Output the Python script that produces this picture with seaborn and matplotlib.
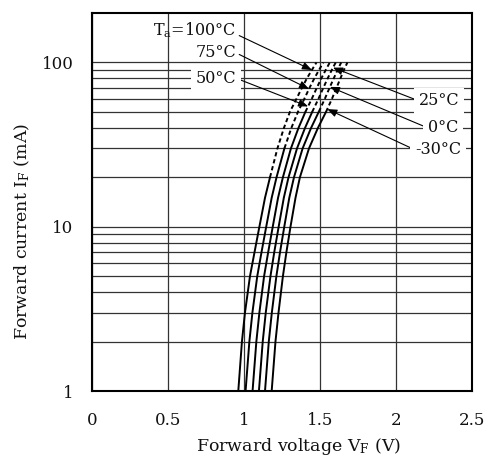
import numpy as np
import pandas as pd
import matplotlib
matplotlib.use("Agg")
import matplotlib.pyplot as plt
from matplotlib.ticker import FixedLocator, NullFormatter
import seaborn as sns

# ---- data ----
current_mA = [1, 2, 3, 5, 7, 10, 15, 20, 30, 40, 50, 60, 70, 80, 90, 100]
vf_100 = [0.962, 0.986, 1.006, 1.039, 1.069, 1.101, 1.138, 1.171, 1.220, 1.263, 1.302, 1.345, 1.381, 1.414, 1.447, 1.477]
vf_75 = [1.010, 1.035, 1.055, 1.087, 1.115, 1.146, 1.182, 1.214, 1.266, 1.312, 1.355, 1.397, 1.431, 1.463, 1.494, 1.522]
vf_50 = [1.056, 1.081, 1.101, 1.132, 1.159, 1.189, 1.224, 1.256, 1.309, 1.359, 1.404, 1.446, 1.479, 1.509, 1.538, 1.565]
vf_25 = [1.098, 1.123, 1.143, 1.174, 1.199, 1.228, 1.262, 1.293, 1.349, 1.402, 1.449, 1.490, 1.522, 1.551, 1.578, 1.604]
vf_0 = [1.138, 1.163, 1.183, 1.213, 1.237, 1.265, 1.298, 1.329, 1.386, 1.442, 1.492, 1.532, 1.563, 1.591, 1.616, 1.640]
vf_m30 = [1.182, 1.207, 1.227, 1.256, 1.279, 1.306, 1.339, 1.368, 1.428, 1.487, 1.540, 1.579, 1.609, 1.635, 1.658, 1.681]
temps = ["100", "75", "50", "25", "0", "-30"]
series = [vf_100, vf_75, vf_50, vf_25, vf_0, vf_m30]
solid_limit_mA = [20, 30, 50, 50, 50, 50]

x_ticks = [0, 0.5, 1, 1.5, 2, 2.5]
x_ticklabels = ["0", "0.5", "1", "1.5", "2", "2.5"]
y_ticks = [1, 10, 100]
y_ticklabels = ["1", "10", "100"]
y_minor = [2, 3, 4, 5, 6, 7, 8, 9, 20, 30, 40, 50, 60, 70, 80, 90]

# annotation targets: (label, series index, current where arrow touches)
left_labels = [(r"T$_\mathrm{a}$=100°C", 0, 90), ("75°C", 1, 69), ("50°C", 2, 54)]
right_labels = [("25°C", 3, 93), ("0°C", 4, 71), ("-30°C", 5, 52)]

# ---- style ----
sns.set_theme(style="white")
plt.rcParams["font.family"] = ["DejaVu Serif"]
plt.rcParams["mathtext.fontset"] = "dejavuserif"
TXT = "#111111"

fig = plt.figure(figsize=(4.93, 4.59), dpi=100)
ax = fig.add_axes([92.3 / 493, 1 - 391 / 459, (471.7 - 92.3) / 493, (391 - 13) / 459])

rows = []
for t, vf, lim in zip(temps, series, solid_limit_mA):
    for i, v in zip(current_mA, vf):
        rows.append({"T": t, "I": i, "V": v, "solid": i <= lim, "dashed": i >= lim})
df = pd.DataFrame(rows)

for t in temps:
    d = df[df["T"] == t]
    sns.lineplot(data=d[d["solid"]], x="V", y="I", ax=ax, color="black", lw=1.4,
                 estimator=None, sort=False)
    sns.lineplot(data=d[d["dashed"]], x="V", y="I", ax=ax, color="black", lw=1.4,
                 estimator=None, sort=False, linestyle=(0, (2.2, 1.5)))

ax.set_yscale("log")
ax.set_xlim(0, 2.5)
ax.set_ylim(1, 200)
ax.set_xticks(x_ticks)
ax.set_xticklabels(x_ticklabels)
ax.set_yticks(y_ticks)
ax.set_yticklabels(y_ticklabels)
ax.yaxis.set_minor_locator(FixedLocator(y_minor))
ax.yaxis.set_minor_formatter(NullFormatter())
ax.tick_params(axis="both", which="both", length=0, labelsize=12, colors=TXT)
ax.tick_params(axis="x", pad=15)
ax.tick_params(axis="y", pad=13.5)
ax.grid(True, axis="y", which="both", color="#333333", lw=0.9)
ax.grid(True, axis="x", which="major", color="#333333", lw=0.9)
ax.set_axisbelow(True)
for s in ax.spines.values():
    s.set_visible(True)
    s.set_color("black")
    s.set_linewidth(1.5)

ax.set_xlabel(r"Forward voltage V$_\mathrm{F}$ (V)", fontsize=12.5, color=TXT)
ax.set_ylabel(r"Forward current I$_\mathrm{F}$ (mA)", fontsize=12.5, color=TXT)
ax.xaxis.set_label_coords(0.543, -0.118)
ax.yaxis.set_label_coords(-0.158, 0.423)


def px_to_data(px, py):
    v = (px - 92.3) / 151.8
    i = 10 ** ((390.3 - py) / 164.0)
    return v, i


def tip(idx, cur):
    return float(np.interp(np.log10(cur), np.log10(current_mA), series[idx])), cur


arrow_kw = dict(arrowstyle="-|>,head_length=0.5,head_width=0.2", color="black", lw=0.8,
                shrinkA=0, shrinkB=0)

left_pos = [(236, 30, False), (236, 52.7, False), (236, 78, True)]
for (lab, idx, cur), (px, py, box) in zip(left_labels, left_pos):
    ap = dict(arrow_kw, relpos=(1.0, 0.3 if idx == 0 else 0.5))
    ax.annotate(lab, xy=tip(idx, cur), xytext=px_to_data(px, py), textcoords="data",
                ha="right", va="center", fontsize=11.5, color=TXT,
                bbox=dict(boxstyle="square,pad=0.3", fc="white", ec="none") if box else None,
                arrowprops=ap)

right_pos = [(419, 100.7), (428, 127.7), (415, 149.5)]
for (lab, idx, cur), (px, py) in zip(right_labels, right_pos):
    ap = dict(arrow_kw, relpos=(0.0, 0.5))
    ax.annotate(lab, xy=tip(idx, cur), xytext=px_to_data(px, py), textcoords="data",
                ha="left", va="center", fontsize=11.5, color=TXT,
                bbox=dict(boxstyle="square,pad=0.3", fc="white", ec="none"),
                arrowprops=ap)

fig.savefig("out.png", dpi=100, facecolor="white")
